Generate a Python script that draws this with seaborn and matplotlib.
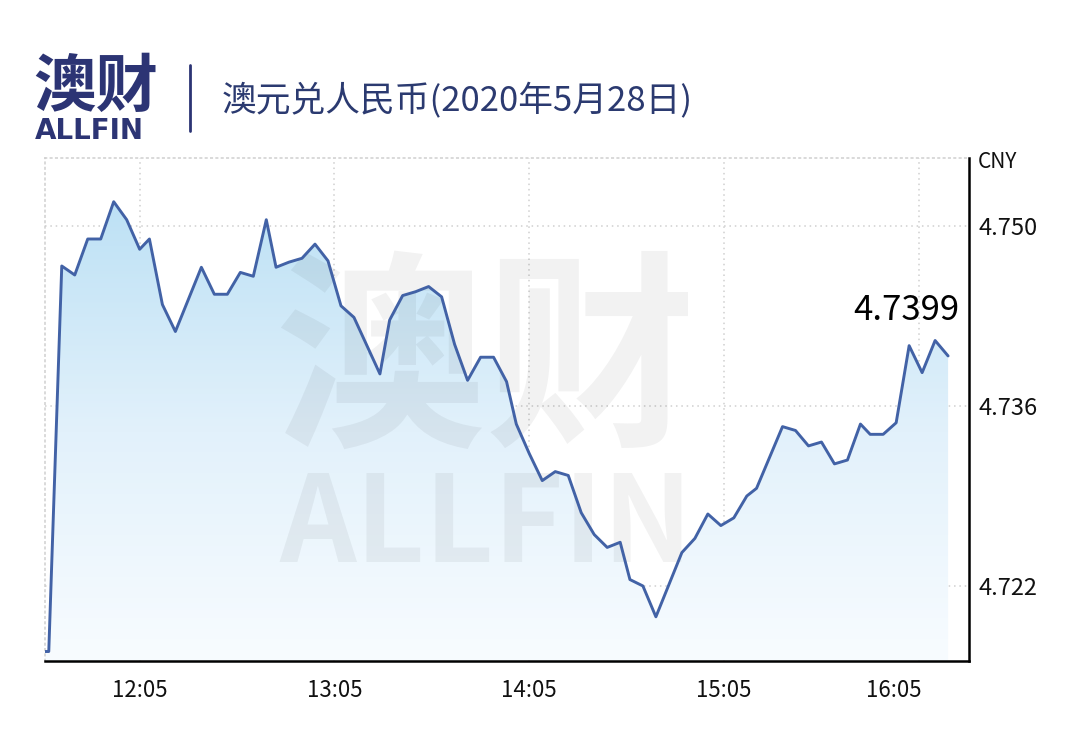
import numpy as np
import pandas as pd
import matplotlib
matplotlib.use("Agg")
import matplotlib.pyplot as plt
import matplotlib.dates as mdates
from matplotlib.colors import LinearSegmentedColormap
from matplotlib.lines import Line2D
from matplotlib.transforms import ScaledTranslation
import seaborn as sns

# AUD/CNY, 28 May 2020
times = ["11:33", "11:37", "11:41", "11:45", "11:49", "11:53", "11:57", "12:01", "12:05",
         "12:08", "12:12", "12:16", "12:20", "12:24", "12:28", "12:32", "12:36", "12:40",
         "12:44", "12:47", "12:51", "12:55", "12:59", "13:03", "13:07", "13:11", "13:15",
         "13:19", "13:22", "13:26", "13:30", "13:34", "13:38", "13:42", "13:46", "13:50",
         "13:54", "13:58", "14:01", "14:05", "14:09", "14:13", "14:17", "14:21", "14:25",
         "14:29", "14:33", "14:36", "14:40", "14:44", "14:48", "14:52", "14:56", "15:00",
         "15:04", "15:08", "15:12", "15:15", "15:19", "15:23", "15:27", "15:31", "15:35",
         "15:39", "15:43", "15:47", "15:50", "15:54", "15:58", "16:02", "16:06", "16:10",
         "16:14"]
rates = [4.7169, 4.7169, 4.7469, 4.7462, 4.7490, 4.7490, 4.7519, 4.7505, 4.7482,
         4.7490, 4.7439, 4.7418, 4.7443, 4.7468, 4.7447, 4.7447, 4.7464, 4.7461,
         4.7505, 4.7468, 4.7472, 4.7475, 4.7486, 4.7473, 4.7438, 4.7429, 4.7407,
         4.7385, 4.7427, 4.7446, 4.7449, 4.7453, 4.7445, 4.7408, 4.7380, 4.7398,
         4.7398, 4.7379, 4.7346, 4.7323, 4.7302, 4.7309, 4.7306, 4.7277, 4.7260,
         4.7250, 4.7254, 4.7225, 4.7220, 4.7196, 4.7221, 4.7246, 4.7257, 4.7276,
         4.7267, 4.7273, 4.7290, 4.7296, 4.7320, 4.7344, 4.7341, 4.7329, 4.7332,
         4.7315, 4.7318, 4.7346, 4.7338, 4.7338, 4.7347, 4.7407, 4.7386, 4.7411,
         4.7399]
yticks = [4.722, 4.736, 4.750]
xtick_labels = ["12:05", "13:05", "14:05", "15:05", "16:05"]
last_label = "4.7399"
title = "澳元兑人民币(2020年5月28日)"

sns.set_theme(style="white")
plt.rcParams["font.family"] = ["Noto Sans CJK SC", "DejaVu Sans"]

day = "2020-05-28 "
df = pd.DataFrame({"time": pd.to_datetime([day + t for t in times]), "rate": rates})

navy = "#2c3474"
line_color = "#4262a6"
grid_color = "#cfcfcf"

fig = plt.figure(figsize=(10.71, 7.33), dpi=100)
ax = fig.add_axes([0.042, 0.0989, 0.8627, 0.6855])

xlim = pd.to_datetime([day + "11:35:50", day + "16:20:25"])
ylim = (4.7162, 4.7553)

# gradient fill under the curve
poly = ax.fill_between(df.time, df.rate, ylim[0], color="none", lw=0)
x0, x1 = mdates.date2num(xlim)
cmap = LinearSegmentedColormap.from_list("fade", ["#f8fcff", "#e2f1fb", "#bde1f5"])
grad = np.linspace(0, 1, 256).reshape(-1, 1)
im = ax.imshow(grad, cmap=cmap, aspect="auto", origin="lower",
               extent=[x0, x1, ylim[0], max(rates)], zorder=1)
im.set_clip_path(poly.get_paths()[0], transform=ax.transData)

sns.lineplot(data=df, x="time", y="rate", ax=ax, color=line_color, linewidth=2.1, zorder=4)

ax.set_xlim(xlim)
ax.set_ylim(ylim)
ax.set_xlabel("")
ax.set_ylabel("")

ax.yaxis.tick_right()
ax.set_yticks(yticks)
ax.set_yticklabels([f"{v:.3f}" for v in yticks])
ax.set_xticks(pd.to_datetime([day + t for t in xtick_labels]))
ax.set_xticklabels(xtick_labels)
ax.tick_params(axis="y", length=0, pad=7, labelsize=17, labelcolor="#111111")
ax.tick_params(axis="x", length=0, pad=13, labelsize=16, labelcolor="#111111")
lab = ax.get_xticklabels()[-1]
lab.set_transform(lab.get_transform() + ScaledTranslation(-0.25, 0, fig.dpi_scale_trans))

ax.grid(True, color=grid_color, linestyle=(0, (1, 2.5)), linewidth=1.1)
ax.set_axisbelow(True)
for side in ["left", "top"]:
    ax.spines[side].set_color(grid_color)
    ax.spines[side].set_linestyle((0, (1, 2.5)))
    ax.spines[side].set_linewidth(1.1)
for side in ["right", "bottom"]:
    ax.spines[side].set_color("black")
    ax.spines[side].set_linewidth(1.8)

ax.annotate(last_label, xy=(df.time.iloc[-1], rates[-1]), xytext=(11, 36),
            textcoords="offset pixels", ha="right", va="baseline", fontsize=25,
            color="black", zorder=5)

# watermark
ax.text(485 / 1071, 1 - 368 / 733, "澳财", transform=fig.transFigure, ha="center",
        va="center", fontsize=152, fontweight="heavy", color="black", alpha=0.05, zorder=3)
ax.text(486 / 1071, 1 - 527 / 733, "ALLFIN", transform=fig.transFigure, ha="center",
        va="center", fontsize=86, fontweight="bold", color="black", alpha=0.05, zorder=3)

fig.text(978 / 1071, 1 - 162 / 733, "CNY", ha="left", va="center", fontsize=15, color="#111111")

# header
fig.text(33 / 1071, 1 - 106 / 733, "澳财", ha="left", va="baseline", fontsize=45,
         fontweight="heavy", color=navy)
fig.text(35 / 1071, 1 - 139 / 733, "ALLFIN", ha="left", va="baseline", fontsize=20,
         fontweight="bold", color=navy, family="DejaVu Sans")
fig.add_artist(Line2D([190 / 1071, 190 / 1071], [1 - 65 / 733, 1 - 131 / 733],
                      color=navy, linewidth=2))
fig.text(222 / 1071, 1 - 101 / 733, title, ha="left", va="center", fontsize=25, color="#2b3a70")

fig.savefig("out.png", dpi=100)
